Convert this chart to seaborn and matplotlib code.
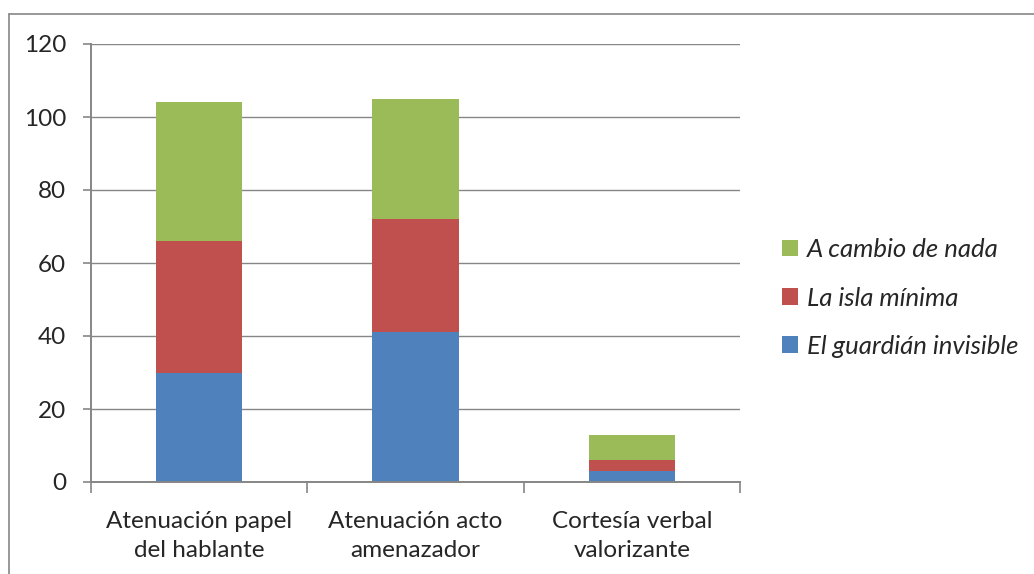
import matplotlib
matplotlib.use("Agg")
import matplotlib.pyplot as plt
from matplotlib.lines import Line2D
from matplotlib.patches import Patch
import seaborn as sns
import numpy as np

# Categories and series values
categories = ["Atenuación papel\ndel hablante", "Atenuación acto\namenazador", "Cortesía verbal\nvalorizante"]
guardian = [30, 41, 3]
isla = [36, 31, 3]
cambio = [38, 33, 7]
series_names = ["El guardián invisible", "La isla mínima", "A cambio de nada"]
y_ticks = [0, 20, 40, 60, 80, 100, 120]

colors = ["#4F81BD", "#C0504D", "#9BBB59"]
grey = "#868686"

sns.set_style("white")
plt.rcParams["font.family"] = ["Lato", "DejaVu Sans"]

fig = plt.figure(figsize=(10.34, 5.74), dpi=100)
ax = fig.add_axes([91 / 1034, 1 - 482 / 574, (740 - 91) / 1034, (482 - 44) / 574])

bottom = np.zeros(len(categories))
for vals, col in zip([guardian, isla, cambio], colors):
    sns.barplot(x=categories, y=vals, bottom=bottom, color=col, width=0.4,
                ax=ax, saturation=1, linewidth=0)
    bottom = bottom + np.array(vals)

ax.set_xlim(-0.5, 2.5)
ax.set_ylim(0, 120)
ax.set_yticks(y_ticks)
ax.yaxis.grid(True, color=grey, linewidth=1.0)
ax.set_axisbelow(True)

for side in ["top", "right"]:
    ax.spines[side].set_visible(False)
for side in ["left", "bottom"]:
    ax.spines[side].set_color(grey)
    ax.spines[side].set_linewidth(1.4)

ax.tick_params(axis="y", direction="out", length=6, width=1.2, color=grey,
               labelsize=17.5, pad=12, left=True)
ax.set_xticks([0, 1, 2])
ax.set_xticklabels(categories)
ax.set_xticks([-0.5, 0.5, 1.5, 2.5], minor=True)
ax.tick_params(axis="x", which="major", length=0, labelsize=17.5, pad=21)
ax.tick_params(axis="x", which="minor", direction="out", length=8, width=1.2,
               color=grey, bottom=True)
for lbl in ax.get_xticklabels():
    lbl.set_linespacing(1.45)
ax.set_xlabel("")
ax.set_ylabel("")

handles = [Patch(facecolor=c, edgecolor="none") for c in colors]
leg = fig.legend(handles[::-1], series_names[::-1], loc="center left",
                 bbox_to_anchor=(759 / 1034, 1 - 298 / 574), frameon=False,
                 prop={"size": 18.5, "style": "italic"}, handlelength=0.6,
                 handleheight=0.6, handletextpad=0.35, labelspacing=0.98)

# Outer chart frame (top and left edges)
fig.add_artist(Line2D([9 / 1034, 1], [1 - 14 / 574, 1 - 14 / 574],
                      transform=fig.transFigure, color=grey, linewidth=1.2))
fig.add_artist(Line2D([9 / 1034, 9 / 1034], [0, 1 - 14 / 574],
                      transform=fig.transFigure, color=grey, linewidth=1.2))

fig.savefig("out.png", dpi=100, facecolor="white")
